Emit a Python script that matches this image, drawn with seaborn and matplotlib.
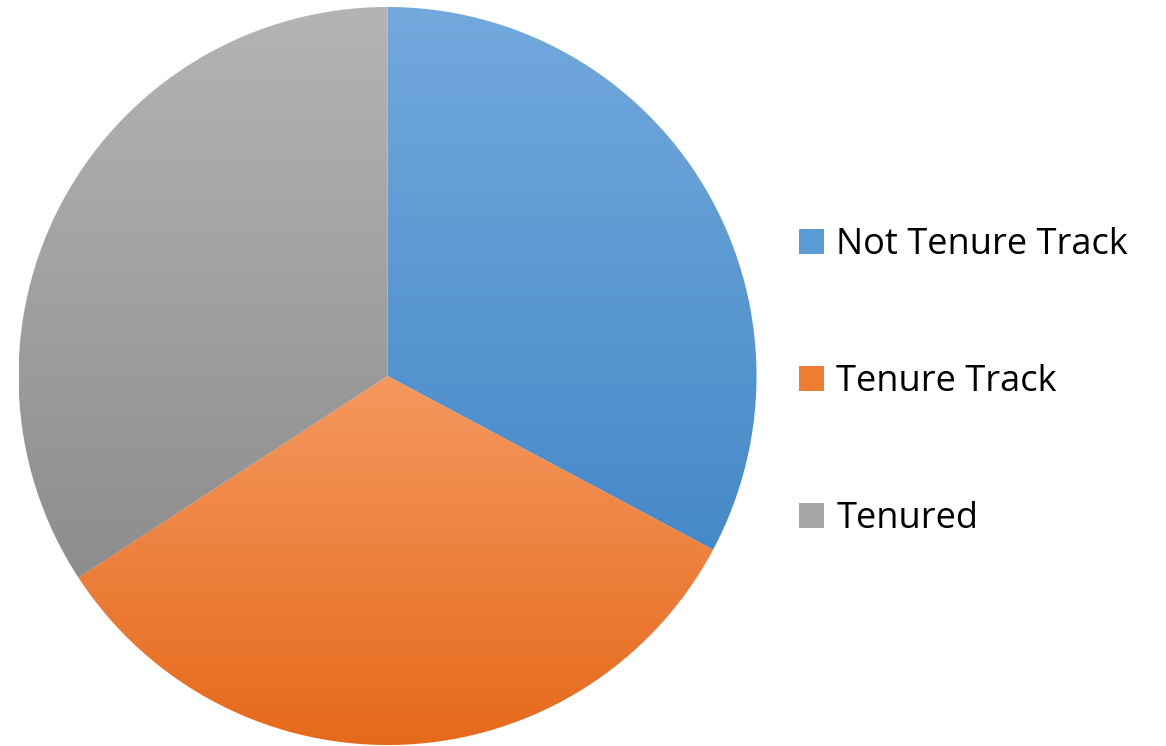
import numpy as np
import matplotlib
matplotlib.use("Agg")
import matplotlib.pyplot as plt
import seaborn as sns
from matplotlib.colors import LinearSegmentedColormap
from matplotlib.patches import Patch

# data (shares of faculty)
categories = ["Not Tenure Track", "Tenure Track", "Tenured"]
shares = [32.8, 33.0, 34.2]
# top / bottom colour of each slice's gradient
top_colors = ["#72a9dd", "#f5985f", "#b4b4b4"]
bottom_colors = ["#4689c8", "#e5691a", "#8d8d8d"]
legend_colors = ["#5b9bd5", "#ed7d31", "#a5a5a5"]

sns.set_theme(style="white")
plt.rcParams["font.family"] = ["Open Sans", "DejaVu Sans"]

fig = plt.figure(figsize=(11.66, 7.46), dpi=100)
ax = fig.add_axes([18 / 1166, 1 / 746, 739 / 1166, 738 / 746])

wedges, _ = ax.pie(shares, startangle=90, counterclock=False, radius=1,
                   colors=legend_colors, wedgeprops=dict(linewidth=0.8, edgecolor="white"))

# vertical gradient per slice, clipped to the wedge
grad = np.linspace(0, 1, 256).reshape(-1, 1)
for w, c0, c1 in zip(wedges, top_colors, bottom_colors):
    path = w.get_path().transformed(w.get_patch_transform())
    ymin, ymax = path.vertices[:, 1].min(), path.vertices[:, 1].max()
    cmap = LinearSegmentedColormap.from_list("g", [c0, c1])
    im = ax.imshow(grad, cmap=cmap, extent=[-1, 1, ymin, ymax], origin="upper",
                   aspect="auto", zorder=w.get_zorder() + 0.1)
    im.set_clip_path(w)

ax.set_xlim(-1.0, 1.0)
ax.set_ylim(-1.0, 1.0)
ax.set_aspect("equal")
ax.axis("off")

handles = [Patch(facecolor=c, edgecolor="none") for c in legend_colors]
leg = fig.legend(handles, categories, loc="center left", bbox_to_anchor=(799 / 1166, (746 - 382) / 746),
                 frameon=False, fontsize=26, handlelength=0.7, handleheight=0.7,
                 handletextpad=0.33, labelspacing=2.8, borderpad=0, borderaxespad=0)
for t in leg.get_texts():
    t.set_color("black")

fig.savefig("out.png", dpi=100)
